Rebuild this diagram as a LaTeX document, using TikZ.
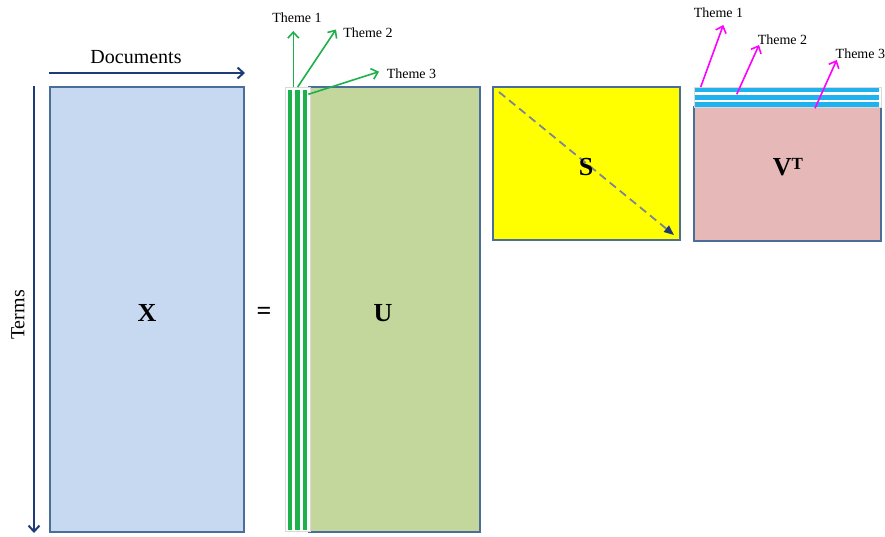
\documentclass[tikz,border=0pt]{standalone}
\usepackage{fontspec}
\setmainfont{Liberation Serif}
\usetikzlibrary{positioning,arrows.meta,calc}
\definecolor{edgeblue}{HTML}{4A6D9A}
\definecolor{xblue}{HTML}{C6D9F1}
\definecolor{ugreen}{HTML}{C3D69B}
\definecolor{vpink}{HTML}{E6B9B8}
\definecolor{syellow}{HTML}{FFFF00}
\definecolor{sgreen}{HTML}{1DB14B}
\definecolor{sblue}{HTML}{1FB2EE}
\definecolor{vmagenta}{HTML}{FF00FF}
\definecolor{navy}{HTML}{1F3A78}
\definecolor{dashgray}{HTML}{7A8598}

\begin{document}
\begin{tikzpicture}[x=1pt, y=-1pt, >={Straight Barb[length=6pt,width=11pt]},
    mat/.style={draw=edgeblue, line width=2pt, inner sep=0pt},
    lbl/.style={font=\fontsize{26}{30}\selectfont\bfseries},
    axis/.style={font=\fontsize{20}{24}\selectfont},
    theme/.style={font=\fontsize{14}{16}\selectfont, inner sep=0pt}]

        \useasboundingbox (0,0) rectangle (885,536);

        % term-document matrix
        \node[mat, fill=xblue, minimum width=194pt, minimum height=445pt] (X) at (147,309.5) {};
        \node[lbl] (xl) at (147,313) {X};
        \node[lbl] (eq) at (264,313) {=};

        % axes
        \draw[->, navy, line width=2pt] ([yshift=13pt]X.north west) -- ([yshift=13pt]X.north east);
        \node[axis] (docs) at (136,57) {Documents};
        \draw[->, navy, line width=2pt] ([xshift=-15pt]X.north west) -- ([xshift=-15pt]X.south west);
        \node[axis, rotate=90] (terms) at (18,315) {Terms};

        % U with theme columns
        \node[mat, fill=ugreen, minimum width=171pt, minimum height=445pt] (U) at (394.5,309.5) {};
        \node[draw=gray!30, fill=white, line width=0.8pt, minimum width=25pt, minimum height=444pt,
            inner sep=0pt] (ucols) at (297.5,309.5) {};
        \fill[sgreen] (287.7,90) rectangle (292.2,530);
        \fill[sgreen] (295.2,90) rectangle (299.7,530);
        \fill[sgreen] (302.5,90) rectangle (307,530);
        \node[lbl] (ul) at (383,313) {U};

        % singular values
        \node[mat, fill=syellow, minimum width=187pt, minimum height=153pt] (S) at (586.5,163.5) {};
        \draw[dashgray, line width=1.8pt, dash pattern=on 8pt off 5pt,
            -{Triangle[length=10pt,width=8pt,color=navy]}]
            ($(S.north west)+(7,6)$) -- ($(S.south east)+(-7,-6)$);
        \node[lbl] (sl) at (586,167) {S};

        % V transpose with theme rows
        \node[mat, fill=vpink, minimum width=187pt, minimum height=134pt] (V) at (787.5,173.5) {};
        \node[draw=gray!30, fill=white, line width=0.8pt, minimum width=187pt, minimum height=20pt,
            inner sep=0pt] (vrows) at (787.5,97) {};
        \fill[sblue] (695,87.7) rectangle (878.5,92.2);
        \fill[sblue] (695,95.2) rectangle (878.5,99.7);
        \fill[sblue] (695,102.3) rectangle (878.5,106.8);
        \node[lbl] (vl) at (788,167) {V\raisebox{0.55ex}{\fontsize{17}{20}\selectfont T}};

        % themes of U
        \node[theme] (ut1) at (297,18) {Theme 1};
        \node[theme] (ut2) at (368,33) {Theme 2};
        \node[theme] (ut3) at (411.5,73.5) {Theme 3};
        \coordinate (ua1) at (293.3,87);
        \coordinate (ua2) at (297.7,87);
        \coordinate (ua3) at (308.3,94.3);
        \coordinate (ub1) at (293.3,31);
        \coordinate (ub2) at (336,29.5);
        \coordinate (ub3) at (379,71.7);
        \draw[->, sgreen, line width=1.6pt] (ua1) -- (ub1);
        \draw[->, sgreen, line width=1.6pt] (ua2) -- (ub2);
        \draw[->, sgreen, line width=1.6pt] (ua3) -- (ub3);

        % themes of V
        \node[theme] (vt1) at (718.5,12.5) {Theme 1};
        \node[theme] (vt2) at (782.5,39.5) {Theme 2};
        \node[theme, anchor=west] (vt3) at (835.5,53.5) {Theme 3};
        \coordinate (va1) at (700.7,87);
        \coordinate (va2) at (736.7,94.3);
        \coordinate (va3) at (815,108.3);
        \coordinate (vb1) at (723.3,25);
        \coordinate (vb2) at (759,45);
        \coordinate (vb3) at (836.7,60);
        \draw[->, vmagenta, line width=1.6pt] (va1) -- (vb1);
        \draw[->, vmagenta, line width=1.6pt] (va2) -- (vb2);
        \draw[->, vmagenta, line width=1.6pt] (va3) -- (vb3);

    \end{tikzpicture}
\end{document}
